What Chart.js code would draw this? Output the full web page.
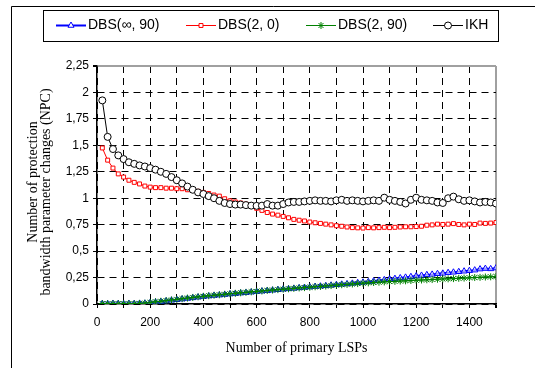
<!DOCTYPE html>
<html>
<head>
<meta charset="utf-8">
<script src="https://cdn.jsdelivr.net/npm/chart.js"></script>
<style>
  html, body { margin: 0; padding: 0; background: #fff; }
  #wrap { width: 535px; height: 368px; }
</style>
</head>
<body>
<div id="wrap"><canvas id="npc" width="535" height="368"></canvas></div>
<script>
// === DATA ===
const LSPS = [20, 40, 60, 80, 100, 120, 140, 160, 180, 200,
  220, 240, 260, 280, 300, 320, 340, 360, 380, 400,
  420, 440, 460, 480, 500, 520, 540, 560, 580, 600,
  620, 640, 660, 680, 700, 720, 740, 760, 780, 800,
  820, 840, 860, 880, 900, 920, 940, 960, 980, 1000,
  1020, 1040, 1060, 1080, 1100, 1120, 1140, 1160, 1180, 1200,
  1220, 1240, 1260, 1280, 1300, 1320, 1340, 1360, 1380, 1400,
  1420, 1440, 1460, 1480, 1500];

const DBS_INF_90 = [0.003, 0.002, 0.004, 0.003, 0.002, 0.004, 0.003, 0.005, 0.006, 0.012,
  0.018, 0.022, 0.028, 0.035, 0.040, 0.046, 0.052, 0.058, 0.064, 0.070,
  0.075, 0.080, 0.084, 0.089, 0.094, 0.098, 0.103, 0.107, 0.112, 0.117,
  0.121, 0.126, 0.130, 0.135, 0.139, 0.143, 0.147, 0.152, 0.156, 0.160,
  0.165, 0.168, 0.172, 0.177, 0.182, 0.186, 0.190, 0.195, 0.200, 0.205,
  0.210, 0.216, 0.222, 0.228, 0.235, 0.240, 0.246, 0.252, 0.258, 0.264,
  0.270, 0.276, 0.280, 0.286, 0.290, 0.296, 0.300, 0.305, 0.310, 0.315,
  0.320, 0.330, 0.335, 0.332, 0.340];

const DBS_2_0 = [1.475, 1.360, 1.285, 1.230, 1.200, 1.170, 1.150, 1.135, 1.115, 1.105,
  1.100, 1.100, 1.095, 1.095, 1.090, 1.090, 1.080, 1.075, 1.065, 1.055,
  1.045, 1.030, 1.020, 0.995, 0.975, 0.965, 0.955, 0.945, 0.925, 0.905,
  0.885, 0.865, 0.850, 0.840, 0.828, 0.815, 0.800, 0.792, 0.785, 0.775,
  0.768, 0.762, 0.755, 0.748, 0.740, 0.735, 0.728, 0.722, 0.720, 0.718,
  0.722, 0.720, 0.722, 0.725, 0.722, 0.725, 0.728, 0.730, 0.730, 0.732,
  0.735, 0.745, 0.748, 0.755, 0.752, 0.755, 0.760, 0.752, 0.748, 0.755,
  0.752, 0.765, 0.762, 0.765, 0.770];

const DBS_2_90 = [0.004, 0.003, 0.005, 0.004, 0.003, 0.005, 0.004, 0.006, 0.008, 0.015,
  0.021, 0.026, 0.032, 0.038, 0.044, 0.050, 0.056, 0.062, 0.068, 0.073,
  0.078, 0.083, 0.087, 0.092, 0.097, 0.101, 0.106, 0.110, 0.115, 0.119,
  0.123, 0.128, 0.132, 0.136, 0.140, 0.144, 0.148, 0.152, 0.155, 0.159,
  0.163, 0.166, 0.170, 0.174, 0.178, 0.182, 0.185, 0.189, 0.193, 0.197,
  0.200, 0.203, 0.206, 0.209, 0.212, 0.214, 0.217, 0.219, 0.222, 0.225,
  0.227, 0.229, 0.231, 0.234, 0.237, 0.238, 0.240, 0.243, 0.245, 0.248,
  0.250, 0.252, 0.255, 0.257, 0.260];

const IKH = [1.925, 1.580, 1.465, 1.405, 1.370, 1.340, 1.325, 1.310, 1.300, 1.285,
  1.270, 1.250, 1.230, 1.200, 1.170, 1.140, 1.110, 1.080, 1.055, 1.040,
  1.020, 1.000, 0.975, 0.955, 0.945, 0.940, 0.940, 0.935, 0.930, 0.928,
  0.930, 0.945, 0.930, 0.930, 0.945, 0.960, 0.965, 0.965, 0.970, 0.975,
  0.980, 0.975, 0.975, 0.970, 0.980, 0.985, 0.975, 0.980, 0.975, 0.970,
  0.975, 0.980, 0.975, 1.005, 0.985, 0.975, 0.965, 0.950, 0.985, 1.005,
  0.985, 0.980, 0.975, 0.960, 0.955, 1.000, 1.015, 0.990, 0.975, 0.980,
  0.970, 0.960, 0.965, 0.960, 0.950];

const SERIES_NAMES = ['DBS(\u221E, 90)', 'DBS(2, 0)', 'DBS(2, 90)', 'IKH'];
const Y_TICKS = [0, 0.25, 0.5, 0.75, 1, 1.25, 1.5, 1.75, 2, 2.25];

// === STYLE ===
const SANS  = "'Liberation Sans', Arial, sans-serif";
const SERIF = "'Liberation Serif', 'Times New Roman', serif";
const GRID_DASH = [7, 5];
const EDGE = '#a0a0a0';

const pts = (ys) => ys.map((y, i) => ({ x: LSPS[i], y }));

function drawMarker(ctx, style, r, x, y){
  // маркер в легенде поверх линии
  ctx.save();
  ctx.beginPath();
  if (style === 'circle'){
    ctx.arc(x, y, r, 0, Math.PI * 2);
    ctx.fill(); ctx.stroke();
  } else if (style === 'rect'){
    const s = r * Math.SQRT1_2;
    ctx.rect(x - s, y - s, 2 * s, 2 * s);
    ctx.fill(); ctx.stroke();
  } else if (style === 'triangle'){
    ctx.moveTo(x, y - r);
    ctx.lineTo(x + r * 0.866, y + r * 0.5);
    ctx.lineTo(x - r * 0.866, y + r * 0.5);
    ctx.closePath();
    ctx.fill(); ctx.stroke();
  } else if (style === 'star'){
    for (let k = 0; k < 4; k++){
      const a = k * Math.PI / 4;
      ctx.moveTo(x - Math.cos(a) * r, y - Math.sin(a) * r);
      ctx.lineTo(x + Math.cos(a) * r, y + Math.sin(a) * r);
    }
    ctx.stroke();
  }
  ctx.restore();
}

// рамка, легенда и подписи осей — рисуем сами
const decorPlugin = {
  id: 'decor',
  beforeDraw(chart){
    const { ctx } = chart;
    ctx.save();
    ctx.fillStyle = '#fff';
    ctx.fillRect(0, 0, chart.width, chart.height);
    ctx.restore();
  },
  afterDraw(chart){
    const { ctx } = chart;
    ctx.save();

    // внешняя рамка
    ctx.strokeStyle = '#000';
    ctx.lineWidth = 1;
    ctx.beginPath();
    ctx.moveTo(11.5, chart.height);
    ctx.lineTo(11.5, 6.5);
    ctx.lineTo(chart.width, 6.5);
    ctx.stroke();

    // легенда
    ctx.strokeRect(43.5, 10.5, 455, 31);
    const itemX = [56, 186, 306, 433];
    const ly = 25.5;
    ctx.font = '14px ' + SANS;
    ctx.textBaseline = 'middle';
    ctx.textAlign = 'left';
    chart.data.datasets.forEach((ds, i) => {
      const x0 = itemX[i];
      ctx.strokeStyle = ds.borderColor;
      ctx.lineWidth = ds.borderWidth;
      ctx.beginPath();
      ctx.moveTo(x0, ly);
      ctx.lineTo(x0 + 30, ly);
      ctx.stroke();
      ctx.fillStyle = ds.pointStyle === 'triangle' ? '#fff' : ds.pointBackgroundColor;
      ctx.strokeStyle = ds.pointBorderColor;
      ctx.lineWidth = 1;
      drawMarker(ctx, ds.pointStyle, ds.pointRadius, x0 + 15, ly);
      ctx.fillStyle = '#000';
      ctx.fillText(ds.label, x0 + 32, ly);
    });

    // подписи осей
    ctx.fillStyle = '#000';
    ctx.font = '14px ' + SERIF;
    ctx.textAlign = 'center';
    ctx.fillText('Number of primary LSPs', 296.5, 348);

    ctx.save();
    ctx.translate(33, 182);
    ctx.rotate(-Math.PI / 2);
    ctx.fillText('Number of protection', 0, 0);
    ctx.restore();
    ctx.save();
    ctx.translate(46, 192);
    ctx.rotate(-Math.PI / 2);
    ctx.fillText('bandwidth parameter changes (NPC)', 0, 0);
    ctx.restore();

    ctx.restore();
  }
};

const isEdge = (ctx, max) => ctx.tick && Math.abs(ctx.tick.value - max) < 1e-9;

new Chart(document.getElementById('npc').getContext('2d'), {
  type: 'line',
  data: {
    datasets: [
      {
        label: SERIES_NAMES[0], data: pts(DBS_INF_90), order: 4,
        borderColor: '#0000ff', borderWidth: 2,
        pointStyle: 'triangle', pointRadius: 3.5,
        pointBorderColor: '#0000ff', pointBackgroundColor: 'rgba(255,255,255,0.6)', pointBorderWidth: 1
      },
      {
        label: SERIES_NAMES[1], data: pts(DBS_2_0), order: 2,
        borderColor: '#ff0000', borderWidth: 1,
        pointStyle: 'rect', pointRadius: 2.8,
        pointBorderColor: '#ff0000', pointBackgroundColor: '#ffffff', pointBorderWidth: 1
      },
      {
        label: SERIES_NAMES[2], data: pts(DBS_2_90), order: 3,
        borderColor: '#008000', borderWidth: 1,
        pointStyle: 'star', pointRadius: 3.5,
        pointBorderColor: '#008000', pointBackgroundColor: '#008000', pointBorderWidth: 1
      },
      {
        label: SERIES_NAMES[3], data: pts(IKH), order: 1,
        borderColor: '#000000', borderWidth: 1,
        pointStyle: 'circle', pointRadius: 3.5,
        pointBorderColor: '#000000', pointBackgroundColor: '#ffffff', pointBorderWidth: 1
      }
    ]
  },
  options: {
    responsive: false,
    animation: false,
    devicePixelRatio: 1,
    layout: { padding: { top: 66, right: 39, bottom: 0, left: 0 } },
    plugins: { legend: { display: false }, tooltip: { enabled: false } },
    elements: { line: { tension: 0 } },
    scales: {
      x: {
        type: 'linear', min: 0, max: 1500,
        afterFit(s){ s.height = 64; },
        ticks: {
          stepSize: 100, autoSkip: false, maxRotation: 0, padding: 7,
          color: '#000', font: { family: SANS, size: 12 },
          callback: (v) => (v % 200 === 0 ? String(v) : '')
        },
        grid: {
          color: (c) => (isEdge(c, 1500) ? EDGE : '#000'),
          lineWidth: (c) => (isEdge(c, 1500) ? 2 : 1),
          tickLength: 4, tickColor: '#000'
        },
        border: { display: true, color: '#000', width: 1.5,
          dash: (c) => (isEdge(c, 1500) ? [] : GRID_DASH) }
      },
      y: {
        min: 0, max: 2.25,
        afterFit(s){ s.width = 97; },
        afterBuildTicks(s){ s.ticks = Y_TICKS.map(v => ({ value: v })); },
        ticks: {
          padding: 4, color: '#000', font: { family: SANS, size: 12 },
          callback: (v) => String(v).replace('.', ',')
        },
        grid: {
          color: (c) => (isEdge(c, 2.25) ? EDGE : '#000'),
          lineWidth: (c) => (isEdge(c, 2.25) ? 2 : 1),
          tickLength: 4, tickColor: '#000'
        },
        border: { display: true, color: '#000', width: 1.5,
          dash: (c) => (isEdge(c, 2.25) ? [] : GRID_DASH) }
      }
    }
  },
  plugins: [decorPlugin]
});
</script>
</body>
</html>
